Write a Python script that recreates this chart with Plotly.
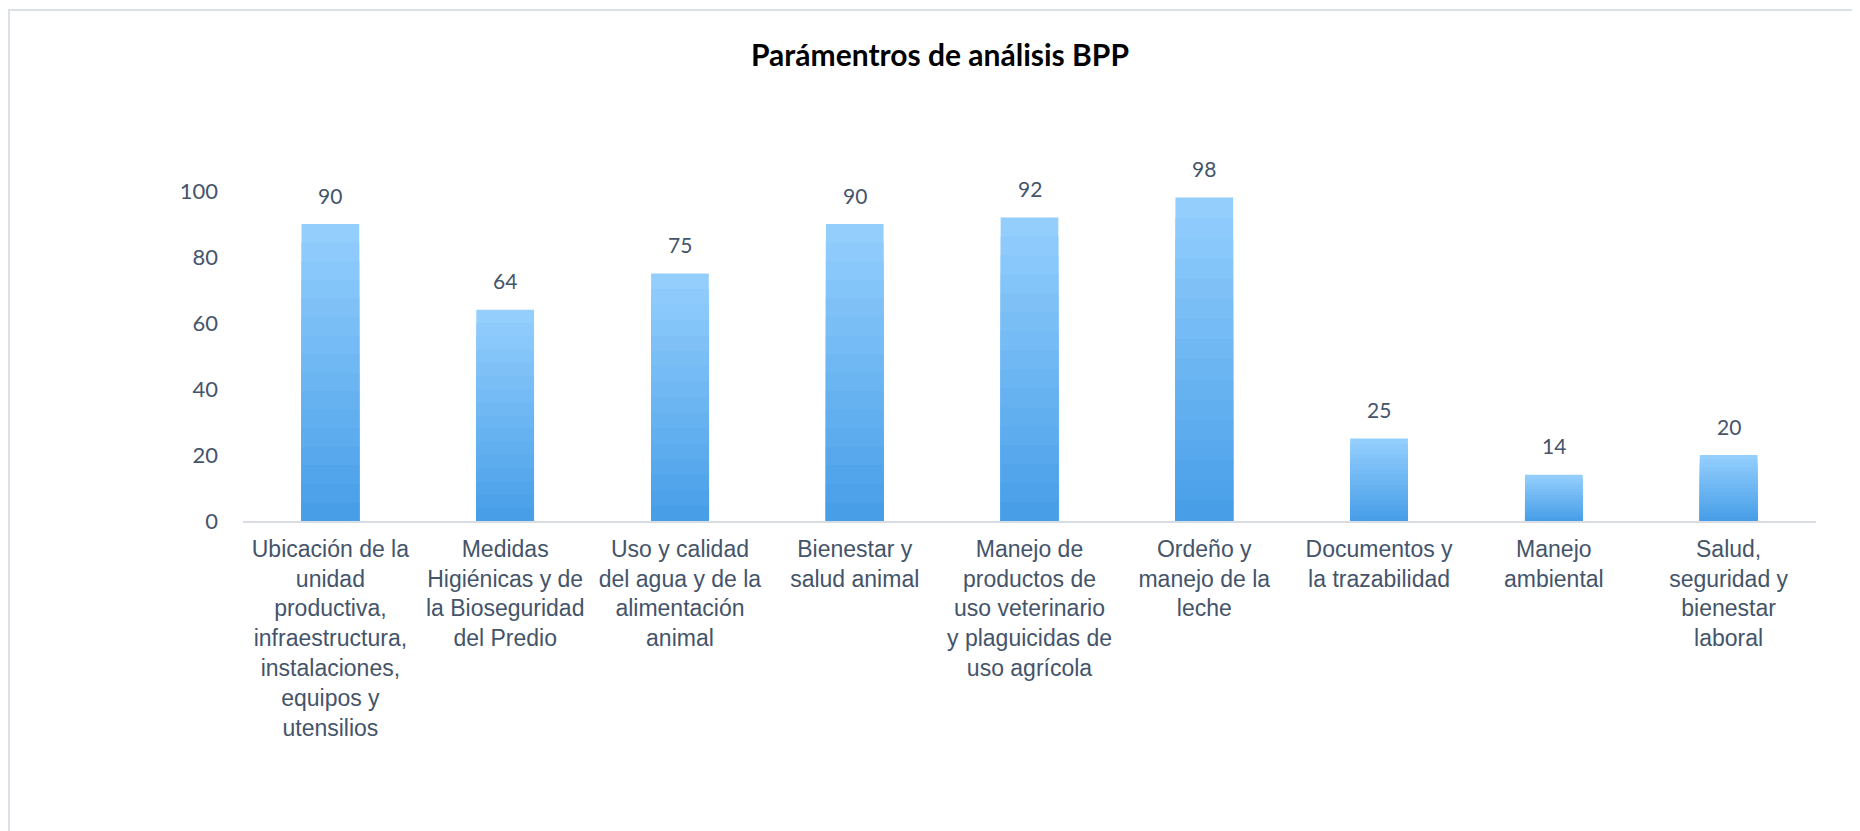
import plotly.graph_objects as go

# datos del gráfico
categorias = [
    "Ubicación de la<br>unidad<br>productiva,<br>infraestructura,<br>instalaciones,<br>equipos y<br>utensilios",
    "Medidas<br>Higiénicas y de<br>la Bioseguridad<br>del Predio",
    "Uso y calidad<br>del agua y de la<br>alimentación<br>animal",
    "Bienestar y<br>salud animal",
    "Manejo de<br>productos de<br>uso veterinario<br>y plaguicidas de<br>uso agrícola",
    "Ordeño y<br>manejo de la<br>leche",
    "Documentos y<br>la trazabilidad",
    "Manejo<br>ambiental",
    "Salud,<br>seguridad y<br>bienestar<br>laboral",
]
valores = [90, 64, 75, 90, 92, 98, 25, 14, 20]
ticks_y = [0, 20, 40, 60, 80, 100]

titulo = "Parámentros de análisis BPP"
color_texto = "#44546A"

# gradiente de las barras: claro arriba, más oscuro abajo
color_arriba = (147, 206, 253)
color_abajo = (72, 159, 232)
n_capas = 16


def mezcla(t):
    r, g, b = [round(a + (c - a) * t) for a, c in zip(color_arriba, color_abajo)]
    return f"rgb({r},{g},{b})"


fig = go.Figure()

# capas superpuestas para simular el degradado
for k in range(n_capas):
    frac = 1 - k / n_capas
    fig.add_trace(go.Bar(
        x=categorias,
        y=[v * frac for v in valores],
        marker=dict(color=mezcla(k / (n_capas - 1)), line=dict(width=0)),
        hoverinfo="skip" if k else None,
        showlegend=False,
    ))

# etiquetas de datos
for cat, v in zip(categorias, valores):
    fig.add_annotation(
        x=cat, y=v, text=str(v), showarrow=False, yshift=29,
        font=dict(family="Lato", size=21, color=color_texto),
    )

# la página añade 8 px de margen al cuerpo
off = 8
x_izq, ancho = 243 - off, 1573
y_arr, y_cero = 158 - off, 521 - off

# marco gris claro alrededor del área del gráfico
fig.add_shape(
    type="rect", xref="paper", yref="paper",
    x0=(9 - off - x_izq) / ancho, x1=(1900 - x_izq) / ancho,
    y0=-2, y1=(y_cero - (10 - off)) / (y_cero - y_arr),
    line=dict(color="#DCE1E8", width=2), layer="below",
)

fig.update_layout(
    width=1860, height=831,
    barmode="overlay",
    bargap=0.67,
    plot_bgcolor="white",
    paper_bgcolor="white",
    margin=dict(l=x_izq, r=1860 - x_izq - ancho, t=y_arr, b=831 - y_cero),
    title=dict(
        text=f"<b>{titulo}</b>",
        x=(940 - off) / 1860, xanchor="center", y=1 - (55 - off) / 831, yanchor="middle",
        font=dict(family="Lato", size=30, color="black"),
    ),
    xaxis=dict(
        showline=True, linecolor="#D9DDE3", linewidth=2,
        showgrid=False, ticks="",
        tickfont=dict(family="Liberation Sans", size=23, color=color_texto),
        tickangle=0,
        ticklabelstandoff=6,
    ),
    yaxis=dict(
        range=[0, 110], tickvals=ticks_y,
        showgrid=False, zeroline=False, showline=False,
        tickfont=dict(family="Lato", size=22, color=color_texto),
        ticklabelstandoff=24,
    ),
)

fig.write_html("out.html")
